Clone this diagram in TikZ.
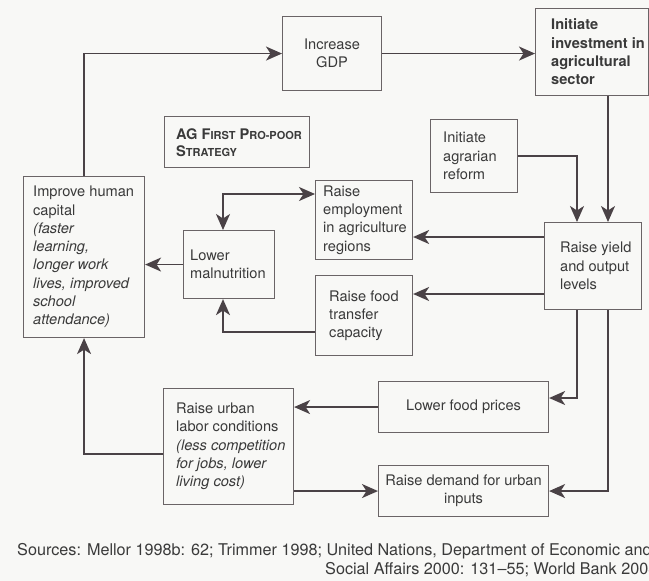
\documentclass[tikz,border=0pt]{standalone}
\usepackage{fontspec}
\setmainfont{TeX Gyre Heros}
\usetikzlibrary{arrows.meta,calc}
\definecolor{linec}{HTML}{4A4246}
\definecolor{boxc}{HTML}{6A6466}
\definecolor{txtc}{HTML}{3A3A3A}
\definecolor{bgc}{HTML}{F8F8F6}
\newcommand\smc[1]{{\fontsize{11}{13}\selectfont #1}}
\begin{document}
\begin{tikzpicture}[x=1pt,y=-1pt,
 box/.style={draw=boxc,line width=1.1pt,inner sep=0pt,anchor=north west},
 txt/.style={align=left,inner sep=0pt,anchor=west,text=txtc,font=\fontsize{14.6}{18.3}\selectfont},
 ctxt/.style={align=center,inner sep=0pt,text=txtc,font=\fontsize{14.6}{18.3}\selectfont},
 src/.style={inner sep=0pt,anchor=base west,text=txtc,font=\fontsize{16.2}{19}\selectfont},
 tip/.tip={Stealth[length=16pt,width=14pt,inset=4.5pt]},
 arr/.style={draw=linec,line width=1.8pt,-tip},
 arrb/.style={draw=linec,line width=1.8pt,tip-tip}]
\clip (0,0) rectangle (649,581);
\fill[bgc] (0,0) rectangle (649,581);

% boxes
\node[box,minimum width=99pt,minimum height=74pt] (gdp) at (282,16) {};
\node[box,minimum width=113pt,minimum height=87pt] (inv) at (535,8) {};
\node[box,minimum width=145pt,minimum height=51pt] (ag) at (164,116) {};
\node[box,minimum width=87pt,minimum height=73pt] (agr) at (430,119) {};
\node[box,minimum width=121pt,minimum height=161pt] (hum) at (23,176) {};
\node[box,minimum width=97pt,minimum height=79pt] (emp) at (315,180) {};
\node[box,minimum width=91pt,minimum height=68pt] (mal) at (183,230) {};
\node[box,minimum width=97pt,minimum height=80pt] (food) at (315,275) {};
\node[box,minimum width=97pt,minimum height=87pt] (yld) at (544,222) {};
\node[box,minimum width=130pt,minimum height=116pt] (urb) at (163,388) {};
\node[box,minimum width=170pt,minimum height=51pt] (fp) at (378,381) {};
\node[box,minimum width=170pt,minimum height=51pt] (dem) at (378,465) {};

% texts
\node[ctxt] (gdpt) at (gdp.center) {Increase\\GDP};
\node[txt,font=\fontsize{14.6}{18.3}\selectfont\bfseries] (invt) at ([xshift=16pt]inv.west) {Initiate\\investment in\\agricultural\\sector};
\node[txt,font=\fontsize{14.6}{17}\selectfont\bfseries] (agt) at ([xshift=12pt,yshift=-1pt]ag.west) {AG F\smc{IRST} P\smc{RO-POOR}\\S\smc{TRATEGY}};
\node[txt] (agrt) at ([xshift=13pt]agr.west) {Initiate\\agrarian\\reform};
\node[txt] (humt) at ([xshift=10pt]hum.west) {Improve human\\capital\\\textit{(faster}\\\textit{learning,}\\\textit{longer work}\\\textit{lives, improved}\\\textit{school}\\\textit{attendance)}};
\node[txt] (empt) at ([xshift=8pt]emp.west) {Raise\\employment\\in agriculture\\regions};
\node[txt] (malt) at ([xshift=7pt]mal.west) {Lower\\malnutrition};
\node[txt] (foodt) at ([xshift=14pt]food.west) {Raise food\\transfer\\capacity};
\node[txt] (yldt) at ([xshift=16pt]yld.west) {Raise yield\\and output\\levels};
\node[txt] (urbt) at ([xshift=13pt]urb.west) {Raise urban\\labor conditions\\\textit{(less competition}\\\textit{for jobs, lower}\\\textit{living cost)}};
\node[ctxt] (fpt) at (fp.center) {Lower food prices};
\node[ctxt] (demt) at (dem.center) {Raise demand for urban\\inputs};

% helper coordinates
\coordinate (xa) at (577,0);
\coordinate (xb) at (608,0);
\coordinate (xc) at (223,0);
\coordinate (ye) at (0,237);
\coordinate (yf) at (0,294);
\coordinate (yp) at (0,398);
\coordinate (yu) at (0,454);
\coordinate (ym) at (0,194);
\coordinate (yt) at (0,332);

% connectors
\draw[arr] (hum.north) |- (gdp.west);
\draw[arr] (gdp.east) -- (gdp.east -| inv.west);
\draw[arr] (inv.south -| xb) -- (yld.north -| xb);
\draw[arr] (agr.east) -| (yld.north -| xa);
\draw[arr] (ye -| yld.west) -- (ye -| emp.east);
\draw[arr] (yf -| yld.west) -- (yf -| food.east);
\draw[arr] (yld.south -| xa) |- (yp -| fp.east);
\draw[arr] (yld.south -| xb) |- (dem.east);
\draw[arr] (fp.west) -- (fp.west -| urb.east);
\draw[arr] (dem.west -| urb.east) -- (dem.west);
\draw[arr] (yu -| urb.west) -| (hum.south);
\draw[arrb] (mal.north -| xc) |- (ym -| emp.west);
\draw[arr] (yt -| food.west) -| (mal.south -| xc);
\draw[arr] (mal.west) -- (mal.west -| hum.east);

% source note
\node[src] (s1) at (17,555) {Sources: Mellor 1998b: 62; Trimmer 1998; United Nations, Department of Economic and};
\node[src] (s2) at (325,574) {Social Affairs 2000: 131--55; World Bank 2003};
\end{tikzpicture}
\end{document}
